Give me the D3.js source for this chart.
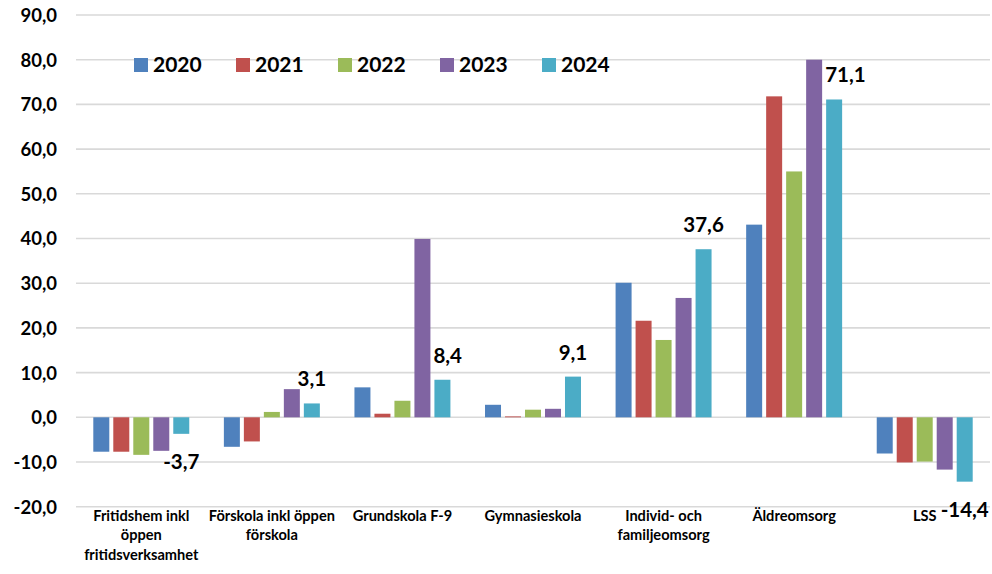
<!DOCTYPE html>
<html><head><meta charset="utf-8">
<script src="https://cdn.jsdelivr.net/npm/d3@7"></script>
<style>
html,body{margin:0;padding:0;background:#fff;}
svg{display:block;font-family:Lato,"Open Sans",sans-serif;}
</style></head>
<body>
<svg id="c" width="992" height="574"></svg>
<script>
const categories = ["Fritidshem inkl\nöppen\nfritidsverksamhet","Förskola inkl öppen\nförskola","Grundskola F-9","Gymnasieskola","Individ- och\nfamiljeomsorg","Äldreomsorg","LSS"];
const years = ["2020","2021","2022","2023","2024"];
const v2020 = [-7.7, -6.6, 6.7, 2.8, 30.1, 43.1, -8.1];
const v2021 = [-7.7, -5.4, 0.8, 0.2, 21.6, 71.8, -10.1];
const v2022 = [-8.4, 1.2, 3.7, 1.7, 17.3, 55.0, -9.9];
const v2023 = [-7.5, 6.3, 39.9, 1.9, 26.7, 80.0, -11.7];
const v2024 = [-3.7, 3.1, 8.4, 9.1, 37.6, 71.1, -14.4];
const yTicks = [-20,-10,0,10,20,30,40,50,60,70,80,90];
const colors = ["#4F81BD","#C0504D","#9BBB59","#8064A2","#4BACC6"];

(function(){
const series = [v2020,v2021,v2022,v2023,v2024];
const svg = d3.select("#c");
const pL = 76, pR = 990, pT = 15, pB = 506.7;
const y = d3.scaleLinear().domain([-20,90]).range([pB, pT]);
const x0 = d3.scaleBand().domain(categories).range([pL, pR]).paddingInner(0.265).paddingOuter(0.1325);
const x1 = d3.scaleBand().domain(years).range([0, x0.bandwidth()]).paddingInner(0.2);
const fmt = v => d3.format(".1f")(v).replace(".", ",").replace("−","-");

// gridlines
svg.append("g").selectAll("line").data(yTicks).join("line")
  .attr("x1", pL).attr("x2", pR)
  .attr("y1", d => y(d)).attr("y2", d => y(d))
  .attr("stroke", "#D9D9D9").attr("stroke-width", 1.6);

// y axis labels
const yAxis = d3.axisLeft(y).tickValues(yTicks).tickFormat(fmt).tickSize(0).tickPadding(0);
const ya = svg.append("g").attr("transform", "translate(57,0)").call(yAxis);
ya.select(".domain").remove();
ya.selectAll("text").attr("font-family","Lato").attr("font-weight","700").attr("font-size", 18.5).attr("fill","#000").attr("dy","0.35em");

// bars
const groups = svg.append("g").selectAll("g").data(categories).join("g")
  .attr("transform", d => `translate(${x0(d)},0)`);
groups.selectAll("rect").data((c,i) => series.map((s,k) => ({k, v: s[i]}))).join("rect")
  .attr("x", d => x1(years[d.k]))
  .attr("width", x1.bandwidth())
  .attr("y", d => y(Math.max(0, d.v)))
  .attr("height", d => Math.abs(y(d.v) - y(0)))
  .attr("fill", d => colors[d.k]);

// data labels for 2024
const li = 4;
categories.forEach((c, i) => {
  const v = series[li][i];
  const cx = x0(c) + x1(years[li]) + x1.bandwidth()/2;
  let anchor = "middle", lx = cx;
  const ly = v >= 0 ? y(v) - 17 : y(v) + 35;
  const prev = series[li-1][i];
  if (v >= 0 && y(prev) < ly) {
    anchor = "start"; lx = x0(c) + x1(years[li-1]) + x1.bandwidth() + 3;
  }
  svg.append("text").attr("x", lx).attr("y", ly).attr("text-anchor", anchor)
    .attr("font-weight","700").attr("font-size", 20.5).attr("fill","#000").text(fmt(v));
});

// category labels
const xl = svg.append("g");
categories.forEach(c => {
  const cx = x0(c) + x0.bandwidth()/2;
  const t = xl.append("text").attr("text-anchor","middle").attr("font-weight","700").attr("font-size",14.6).attr("fill","#000");
  c.split("\n").forEach((ln, j) => {
    t.append("tspan").attr("x", cx).attr("y", 520.5 + j*19.5).text(ln);
  });
});

// legend
const lg = svg.append("g").selectAll("g").data(years).join("g")
  .attr("transform", (d,i) => `translate(${134 + i*102},58)`);
lg.append("rect").attr("width",14).attr("height",14).attr("fill",(d,i)=>colors[i]);
lg.append("text").attr("x",19).attr("y",14).attr("font-weight","700").attr("font-size",21).attr("fill","#000").text(d=>d);
})();
</script>
</body></html>
